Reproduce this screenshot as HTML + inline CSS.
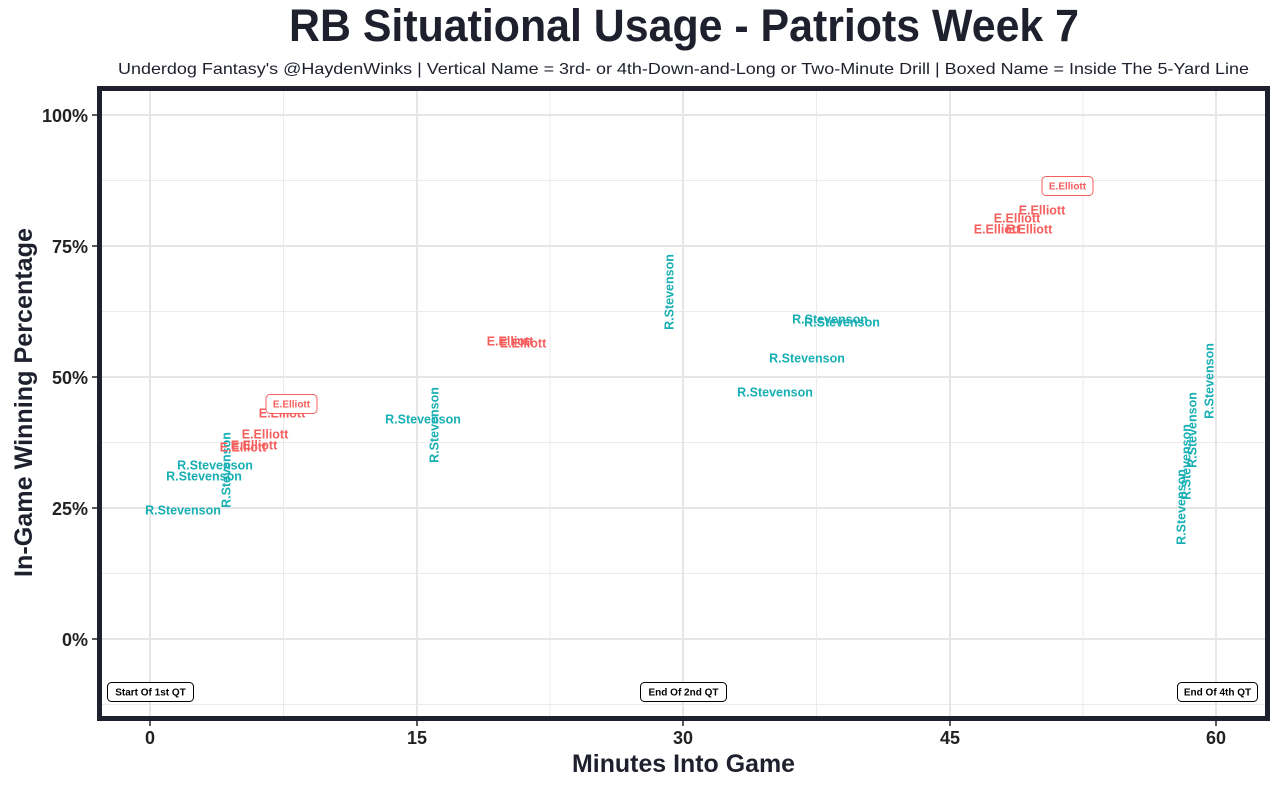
<!DOCTYPE html>
<html>
<head>
<meta charset="utf-8">
<style>
  html, body { margin:0; padding:0; background:#fff; }
  svg { display:block; }
  text { font-family: "Liberation Sans", Arial, sans-serif; }
  .r { fill:#F55F5E; font-weight:bold; font-size:12.5px; }
  .t { fill:#17AFB4; font-weight:bold; font-size:12.5px; }
  .tick { fill:#222; font-weight:bold; font-size:18px; }
  .qt { fill:#000; font-weight:bold; font-size:10px; }
</style>
</head>
<body>
<svg width="1280" height="786" viewBox="0 0 1280 786" xmlns="http://www.w3.org/2000/svg">
  <rect x="0" y="0" width="1280" height="786" fill="#fff"/>

  <!-- Title -->
  <text x="684" y="41" text-anchor="middle" font-size="45" font-weight="bold" fill="#1E212D" textLength="790" lengthAdjust="spacingAndGlyphs">RB Situational Usage - Patriots Week 7</text>
  <text x="683.5" y="74" text-anchor="middle" font-size="16" fill="#1E212D" textLength="1131" lengthAdjust="spacingAndGlyphs">Underdog Fantasy's @HaydenWinks | Vertical Name = 3rd- or 4th-Down-and-Long or Two-Minute Drill | Boxed Name = Inside The 5-Yard Line</text>

  <!-- minor gridlines -->
  <g stroke="#EBEBEB" stroke-width="1">
    <line x1="283.5" y1="90" x2="283.5" y2="717"/>
    <line x1="550" y1="90" x2="550" y2="717"/>
    <line x1="816.5" y1="90" x2="816.5" y2="717"/>
    <line x1="1083" y1="90" x2="1083" y2="717"/>
    <line x1="100" y1="180.5" x2="1266" y2="180.5"/>
    <line x1="100" y1="311.5" x2="1266" y2="311.5"/>
    <line x1="100" y1="442.5" x2="1266" y2="442.5"/>
    <line x1="100" y1="573.5" x2="1266" y2="573.5"/>
    <line x1="100" y1="704.5" x2="1266" y2="704.5"/>
  </g>
  <!-- major gridlines -->
  <g stroke="#E6E6E6" stroke-width="2">
    <line x1="150" y1="90" x2="150" y2="717"/>
    <line x1="417" y1="90" x2="417" y2="717"/>
    <line x1="683" y1="90" x2="683" y2="717"/>
    <line x1="950" y1="90" x2="950" y2="717"/>
    <line x1="1216" y1="90" x2="1216" y2="717"/>
    <line x1="100" y1="115" x2="1266" y2="115"/>
    <line x1="100" y1="246" x2="1266" y2="246"/>
    <line x1="100" y1="377" x2="1266" y2="377"/>
    <line x1="100" y1="508" x2="1266" y2="508"/>
    <line x1="100" y1="639" x2="1266" y2="639"/>
  </g>

  <!-- Teal horizontal labels -->
  <g class="t" text-anchor="middle">
    <text x="183" y="510" dy="0.35em">R.Stevenson</text>
    <text x="204" y="476" dy="0.35em">R.Stevenson</text>
    <text x="215" y="465" dy="0.35em">R.Stevenson</text>
    <text x="423" y="419" dy="0.35em">R.Stevenson</text>
    <text x="830" y="319" dy="0.35em">R.Stevenson</text>
    <text x="842" y="322" dy="0.35em">R.Stevenson</text>
    <text x="807" y="358" dy="0.35em">R.Stevenson</text>
    <text x="775" y="392" dy="0.35em">R.Stevenson</text>
  </g>
  <!-- Teal vertical labels -->
  <g class="t" text-anchor="middle">
    <text transform="translate(226,470) rotate(-90)" dy="0.35em">R.Stevenson</text>
    <text transform="translate(434,425) rotate(-90)" dy="0.35em">R.Stevenson</text>
    <text transform="translate(669,292) rotate(-90)" dy="0.35em">R.Stevenson</text>
    <text transform="translate(1209,381) rotate(-90)" dy="0.35em">R.Stevenson</text>
    <text transform="translate(1192,430) rotate(-90)" dy="0.35em">R.Stevenson</text>
    <text transform="translate(1186,462) rotate(-90)" dy="0.35em">R.Stevenson</text>
    <text transform="translate(1181,507) rotate(-90)" dy="0.35em">R.Stevenson</text>
  </g>

  <!-- Red labels -->
  <g class="r" text-anchor="middle">
    <text x="282" y="413" dy="0.35em">E.Elliott</text>
    <text x="265" y="434" dy="0.35em">E.Elliott</text>
    <text x="243" y="447" dy="0.35em">E.Elliott</text>
    <text x="254" y="445" dy="0.35em">E.Elliott</text>
    <text x="510" y="341" dy="0.35em">E.Elliott</text>
    <text x="523" y="343" dy="0.35em">E.Elliott</text>
    <text x="1042" y="210" dy="0.35em">E.Elliott</text>
    <text x="1017" y="218" dy="0.35em">E.Elliott</text>
    <text x="997" y="229" dy="0.35em">E.Elliott</text>
    <text x="1029" y="229" dy="0.35em">E.Elliott</text>
  </g>

  <!-- Red boxed labels -->
  <rect x="266" y="394.5" width="51" height="19" rx="4" fill="#fff" stroke="#F55F5E" stroke-width="1"/>
  <text x="291.5" y="404" dy="0.35em" text-anchor="middle" font-size="10" font-weight="bold" fill="#F55F5E">E.Elliott</text>
  <rect x="1042" y="176.5" width="51" height="19" rx="4" fill="#fff" stroke="#F55F5E" stroke-width="1"/>
  <text x="1067.5" y="186" dy="0.35em" text-anchor="middle" font-size="10" font-weight="bold" fill="#F55F5E">E.Elliott</text>

  <!-- QT boxes -->
  <rect x="107.5" y="682.5" width="86" height="19" rx="4" fill="#fff" stroke="#000" stroke-width="1"/>
  <text class="qt" x="150.5" y="692" dy="0.35em" text-anchor="middle">Start Of 1st QT</text>
  <rect x="640.5" y="682.5" width="86" height="19" rx="4" fill="#fff" stroke="#000" stroke-width="1"/>
  <text class="qt" x="683.5" y="692" dy="0.35em" text-anchor="middle">End Of 2nd QT</text>
  <rect x="1177.5" y="682.5" width="80" height="19" rx="4" fill="#fff" stroke="#000" stroke-width="1"/>
  <text class="qt" x="1217.5" y="692" dy="0.35em" text-anchor="middle">End Of 4th QT</text>

  <!-- Panel border -->
  <rect x="99.5" y="88.5" width="1168" height="630" fill="none" stroke="#1E212D" stroke-width="5"/>

  <!-- ticks -->
  <g stroke="#222" stroke-width="1.5">
    <line x1="150" y1="721" x2="150" y2="726"/>
    <line x1="417" y1="721" x2="417" y2="726"/>
    <line x1="683" y1="721" x2="683" y2="726"/>
    <line x1="950" y1="721" x2="950" y2="726"/>
    <line x1="1216" y1="721" x2="1216" y2="726"/>
    <line x1="92" y1="115" x2="97" y2="115"/>
    <line x1="92" y1="246" x2="97" y2="246"/>
    <line x1="92" y1="377" x2="97" y2="377"/>
    <line x1="92" y1="508" x2="97" y2="508"/>
    <line x1="92" y1="639" x2="97" y2="639"/>
  </g>

  <!-- x tick labels -->
  <g class="tick" text-anchor="middle">
    <text x="150" y="744">0</text>
    <text x="417" y="744">15</text>
    <text x="683" y="744">30</text>
    <text x="950" y="744">45</text>
    <text x="1216" y="744">60</text>
  </g>
  <!-- y tick labels -->
  <g class="tick" text-anchor="end">
    <text x="88" y="122">100%</text>
    <text x="88" y="253">75%</text>
    <text x="88" y="384">50%</text>
    <text x="88" y="515">25%</text>
    <text x="88" y="646">0%</text>
  </g>

  <!-- axis titles -->
  <text x="683.5" y="772" text-anchor="middle" font-size="25" font-weight="bold" fill="#1E212D" textLength="223" lengthAdjust="spacingAndGlyphs">Minutes Into Game</text>
  <text transform="translate(32,402.5) rotate(-90)" text-anchor="middle" font-size="25" font-weight="bold" fill="#1E212D" textLength="349" lengthAdjust="spacingAndGlyphs">In-Game Winning Percentage</text>
</svg>
</body>
</html>
